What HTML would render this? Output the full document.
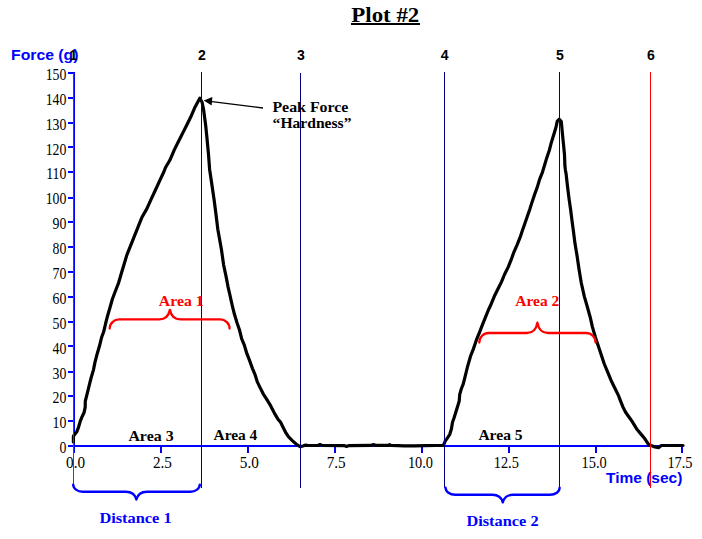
<!DOCTYPE html>
<html><head><meta charset="utf-8"><title>Plot #2</title>
<style>
html,body{margin:0;padding:0;background:#fff;width:702px;height:539px;overflow:hidden}
svg{display:block}
.tn{font-family:"Liberation Serif","Times New Roman",serif;font-size:16.5px}
.sb{font-family:"Liberation Serif","Times New Roman",serif;font-weight:bold}
.ab{font-family:"Liberation Sans",Arial,sans-serif;font-weight:bold}
</style></head>
<body>
<svg width="702" height="539" viewBox="0 0 702 539">
<rect x="68" y="72" width="6" height="2" fill="#0000ff"/>
<text transform="translate(66.4,80.00) scale(0.84,1)" class="tn" text-anchor="end">150</text>
<rect x="68" y="97" width="6" height="2" fill="#0000ff"/>
<text transform="translate(66.4,104.87) scale(0.84,1)" class="tn" text-anchor="end">140</text>
<rect x="68" y="122" width="6" height="2" fill="#0000ff"/>
<text transform="translate(66.4,129.73) scale(0.84,1)" class="tn" text-anchor="end">130</text>
<rect x="68" y="146" width="6" height="2" fill="#0000ff"/>
<text transform="translate(66.4,154.60) scale(0.84,1)" class="tn" text-anchor="end">120</text>
<rect x="68" y="171" width="6" height="2" fill="#0000ff"/>
<text transform="translate(66.4,179.47) scale(0.84,1)" class="tn" text-anchor="end">110</text>
<rect x="68" y="197" width="6" height="2" fill="#0000ff"/>
<text transform="translate(66.4,204.34) scale(0.84,1)" class="tn" text-anchor="end">100</text>
<rect x="68" y="221" width="6" height="2" fill="#0000ff"/>
<text transform="translate(66.4,229.20) scale(0.84,1)" class="tn" text-anchor="end">90</text>
<rect x="68" y="246" width="6" height="2" fill="#0000ff"/>
<text transform="translate(66.4,254.07) scale(0.84,1)" class="tn" text-anchor="end">80</text>
<rect x="68" y="271" width="6" height="2" fill="#0000ff"/>
<text transform="translate(66.4,278.94) scale(0.84,1)" class="tn" text-anchor="end">70</text>
<rect x="68" y="296" width="6" height="2" fill="#0000ff"/>
<text transform="translate(66.4,303.80) scale(0.84,1)" class="tn" text-anchor="end">60</text>
<rect x="68" y="321" width="6" height="2" fill="#0000ff"/>
<text transform="translate(66.4,328.67) scale(0.84,1)" class="tn" text-anchor="end">50</text>
<rect x="68" y="345" width="6" height="2" fill="#0000ff"/>
<text transform="translate(66.4,353.54) scale(0.84,1)" class="tn" text-anchor="end">40</text>
<rect x="68" y="371" width="6" height="2" fill="#0000ff"/>
<text transform="translate(66.4,379.20) scale(0.84,1)" class="tn" text-anchor="end">30</text>
<rect x="68" y="395" width="6" height="2" fill="#0000ff"/>
<text transform="translate(66.4,403.27) scale(0.84,1)" class="tn" text-anchor="end">20</text>
<rect x="68" y="420" width="6" height="2" fill="#0000ff"/>
<text transform="translate(66.4,428.14) scale(0.84,1)" class="tn" text-anchor="end">10</text>
<rect x="68" y="445" width="6" height="2" fill="#0000ff"/>
<text transform="translate(66.4,453.00) scale(0.84,1)" class="tn" text-anchor="end">0</text>
<rect x="73" y="72" width="2" height="375" fill="#0000ff"/>
<rect x="68" y="445" width="614" height="2" fill="#0000ff"/>
<rect x="73" y="447" width="2" height="6" fill="#0000ff"/>
<text transform="translate(75.60,467.6) scale(0.92,1)" class="tn" text-anchor="middle">0.0</text>
<rect x="160" y="447" width="2" height="6" fill="#0000ff"/>
<text transform="translate(162.44,467.6) scale(0.92,1)" class="tn" text-anchor="middle">2.5</text>
<rect x="247" y="447" width="2" height="6" fill="#0000ff"/>
<text transform="translate(249.28,467.6) scale(0.92,1)" class="tn" text-anchor="middle">5.0</text>
<rect x="334" y="447" width="2" height="6" fill="#0000ff"/>
<text transform="translate(336.12,467.6) scale(0.92,1)" class="tn" text-anchor="middle">7.5</text>
<rect x="421" y="447" width="2" height="6" fill="#0000ff"/>
<text transform="translate(420.46,467.6) scale(0.87,1)" class="tn" text-anchor="middle">10.0</text>
<rect x="508" y="447" width="2" height="6" fill="#0000ff"/>
<text transform="translate(506.30,467.6) scale(0.87,1)" class="tn" text-anchor="middle">12.5</text>
<rect x="595" y="447" width="2" height="6" fill="#0000ff"/>
<text transform="translate(594.14,467.6) scale(0.87,1)" class="tn" text-anchor="middle">15.0</text>
<rect x="681" y="447" width="2" height="6" fill="#0000ff"/>
<text transform="translate(679.98,467.6) scale(0.87,1)" class="tn" text-anchor="middle">17.5</text>
<path d="M73.4,442.0 L73.4,436.2 L74.6,434.5 L76.8,431.7 L78.5,427.3 L80.1,421.7 L81.8,417.3 L84.0,412.8 L85.2,407.2 L85.3,401.2 L87.5,392.3 L89.7,383.4 L91.2,377.5 L93.4,370.1 L94.9,362.6 L97.2,353.7 L99.4,346.3 L101.6,337.4 L103.5,332.3 L104.6,328.0 L105.6,323.5 L107.3,316.8 L109.5,309.3 L112.4,299.0 L115.8,290.0 L118.6,282.8 L121.3,273.5 L124.1,264.2 L126.9,254.9 L130.6,245.7 L134.3,236.4 L138.0,227.1 L141.7,217.8 L146.9,208.6 L151.3,198.9 L155.1,190.8 L159.5,181.1 L164.0,171.5 L165.4,167.7 L169.8,160.3 L174.3,149.9 L178.7,141.0 L183.2,132.1 L186.9,124.7 L190.6,117.3 L195.1,106.9 L199.8,98.2 L202.0,102.0 L203.5,109.0 L205.6,124.7 L207.1,139.5 L208.5,154.3 L209.6,169.2 L211.9,184.8 L214.1,199.7 L216.0,214.5 L217.8,229.3 L220.5,244.2 L221.5,250.0 L223.6,264.8 L226.1,276.7 L228.1,287.1 L229.8,294.5 L232.1,304.9 L234.3,313.8 L237.0,322.7 L239.5,330.0 L241.7,338.9 L244.2,344.8 L246.9,353.7 L249.8,361.2 L252.5,368.6 L255.0,374.5 L257.3,381.9 L260.2,387.9 L263.2,393.8 L266.9,399.7 L270.6,405.7 L272.8,410.0 L274.5,413.4 L277.8,418.9 L280.6,422.3 L282.8,426.7 L285.6,432.3 L288.4,436.7 L292.3,440.6 L296.7,444.5 L300.1,446.6 L303.0,446.0 L305.7,445.1 L308.0,445.5 L318.0,445.4 L320.0,444.5 L322.0,445.4 L344.0,445.6 L346.5,446.4 L349.0,445.6 L371.0,445.4 L373.5,444.5 L376.0,445.4 L388.0,445.4 L389.5,444.7 L391.0,445.5 L398.0,445.7 L404.0,445.8 L415.0,445.8 L425.0,445.7 L435.0,445.5 L442.5,445.4 L443.6,444.8 L445.2,441.2 L447.5,437.9 L449.7,434.5 L451.4,429.0 L452.5,422.3 L454.1,417.8 L455.8,412.3 L457.5,406.7 L459.2,401.1 L459.7,394.5 L460.8,390.6 L462.0,387.1 L463.2,384.2 L465.4,375.3 L467.6,366.4 L470.6,356.0 L473.5,348.6 L476.5,339.7 L479.5,332.3 L482.4,324.8 L485.4,317.4 L488.4,310.0 L491.1,304.2 L494.1,296.8 L497.8,289.3 L501.5,281.9 L504.5,274.5 L508.2,267.1 L511.2,259.7 L513.8,252.3 L517.1,244.8 L520.1,237.4 L522.3,230.7 L524.6,224.2 L527.2,216.8 L529.8,209.3 L532.1,201.9 L534.6,194.5 L537.3,187.1 L539.5,179.7 L542.4,172.3 L544.7,164.8 L546.9,157.4 L549.4,150.0 L551.1,143.4 L552.8,137.8 L554.5,132.3 L556.1,126.7 L557.3,121.1 L559.3,119.3 L561.3,121.5 L562.3,132.3 L563.4,143.4 L564.5,154.5 L564.9,165.7 L565.4,170.0 L566.1,173.9 L567.6,187.3 L569.1,199.1 L570.6,209.5 L572.1,221.4 L573.5,231.8 L575.0,243.6 L576.9,254.8 L579.1,269.7 L581.3,283.0 L584.3,296.4 L587.3,306.8 L590.2,317.2 L592.4,326.9 L595.4,337.3 L598.4,346.2 L601.3,355.1 L604.3,364.0 L608.0,372.9 L611.7,381.8 L615.4,389.2 L618.4,395.4 L620.4,400.6 L623.0,407.1 L625.6,412.3 L628.8,416.8 L632.1,421.4 L635.3,426.6 L637.3,429.8 L641.2,434.4 L644.4,438.2 L647.0,442.1 L649.0,445.0 L651.6,445.6 L654.8,447.0 L658.5,447.6 L661.3,445.5 L683.0,445.5" fill="none" stroke="#000" stroke-width="3.2" stroke-linejoin="round" stroke-linecap="round"/>
<rect x="73" y="73" width="1" height="411.5" fill="#ff0000"/>
<rect x="201" y="72" width="1" height="416" fill="#000080"/>
<rect x="300" y="73" width="1" height="415" fill="#000080"/>
<rect x="444" y="72" width="1" height="415.6" fill="#000080"/>
<rect x="559" y="72" width="1" height="415.5" fill="#000080"/>
<line x1="263" y1="108" x2="210" y2="101.3" stroke="#000" stroke-width="1.3"/>
<polygon points="203.8,100.6 212.4,97 211.6,105.6" fill="#000"/>
<path d="M109.7,328.6 C109.7,323.52 113.95,319.4 119.2,319.4 L159.4,319.4 C164.65,319.4 168.70,316.04 169.9,309.8 C171.10,316.04 175.15,319.4 180.4,319.4 L220.1,319.4 C225.35,319.4 229.6,323.52 229.6,328.6" fill="none" stroke="#ff0000" stroke-width="2.3" stroke-linecap="round" stroke-linejoin="round"/>
<path d="M479.3,342.6 C479.3,337.30 483.55,333.0 488.8,333.0 L526.9,333.0 C532.15,333.0 536.20,329.36 537.4,322.6 C538.60,329.36 542.65,333.0 547.9,333.0 L586.1,333.0 C591.35,333.0 595.6,337.30 595.6,342.6" fill="none" stroke="#ff0000" stroke-width="2.3" stroke-linecap="round" stroke-linejoin="round"/>
<path d="M73.2,484.6 C73.2,488.52 77.45,491.7 82.7,491.7 L125.9,491.7 C131.15,491.7 135.20,494.46 136.4,499.6 C137.60,494.46 141.65,491.7 146.9,491.7 L190.3,491.7 C195.55,491.7 199.8,488.52 199.8,484.6" fill="none" stroke="#0000ff" stroke-width="2.4" stroke-linecap="round" stroke-linejoin="round"/>
<path d="M445.6,487.8 C445.6,491.67 449.85,494.8 455.1,494.8 L492.3,494.8 C497.55,494.8 501.60,497.46 502.8,502.4 C504.00,497.46 508.05,494.8 513.3,494.8 L550.1,494.8 C555.35,494.8 559.6,491.67 559.6,487.8" fill="none" stroke="#0000ff" stroke-width="2.4" stroke-linecap="round" stroke-linejoin="round"/>
<text x="351.3" y="21.7" class="sb" font-size="20" textLength="68" lengthAdjust="spacingAndGlyphs">Plot #2</text>
<rect x="351" y="23" width="69" height="2" fill="#000"/>
<text x="11" y="60" class="ab" font-size="15" fill="#0000ff" textLength="67.5" lengthAdjust="spacingAndGlyphs">Force (g)</text>
<text transform="translate(69.4,60) scale(0.92,1)" class="ab" font-size="15.3">1</text>
<text transform="translate(197.9,60) scale(0.92,1)" class="ab" font-size="15.3">2</text>
<text transform="translate(297.0,60) scale(0.92,1)" class="ab" font-size="15.3">3</text>
<text transform="translate(440.7,60) scale(0.92,1)" class="ab" font-size="15.3">4</text>
<text transform="translate(556.0,60) scale(0.92,1)" class="ab" font-size="15.3">5</text>
<text transform="translate(647.0,60) scale(0.92,1)" class="ab" font-size="15.3">6</text>
<text x="606" y="483" class="ab" font-size="15" fill="#0000ff" textLength="76.4" lengthAdjust="spacingAndGlyphs">Time (sec)</text>
<text x="272.4" y="111.9" class="sb" font-size="15" textLength="76" lengthAdjust="spacingAndGlyphs">Peak Force</text>
<text x="272.6" y="128.2" class="sb" font-size="15" textLength="78.9" lengthAdjust="spacingAndGlyphs">“Hardness”</text>
<text x="158.8" y="305.9" class="sb" font-size="15" fill="#ff0000" textLength="44.9" lengthAdjust="spacingAndGlyphs">Area 1</text>
<text x="515.2" y="305.9" class="sb" font-size="15" fill="#ff0000" textLength="44.1" lengthAdjust="spacingAndGlyphs">Area 2</text>
<text x="128.4" y="440.8" class="sb" font-size="15" textLength="45.2" lengthAdjust="spacingAndGlyphs">Area 3</text>
<text x="213.5" y="440.3" class="sb" font-size="15" textLength="43.8" lengthAdjust="spacingAndGlyphs">Area 4</text>
<text x="478.4" y="439.8" class="sb" font-size="15" textLength="44.2" lengthAdjust="spacingAndGlyphs">Area 5</text>
<text x="99.4" y="523.3" class="sb" font-size="15" fill="#0000ff" textLength="72.2" lengthAdjust="spacingAndGlyphs">Distance 1</text>
<text x="466.4" y="526.3" class="sb" font-size="15" fill="#0000ff" textLength="72.2" lengthAdjust="spacingAndGlyphs">Distance 2</text>
<rect x="650" y="72" width="1" height="416" fill="#ff0000"/>
</svg>
</body></html>
